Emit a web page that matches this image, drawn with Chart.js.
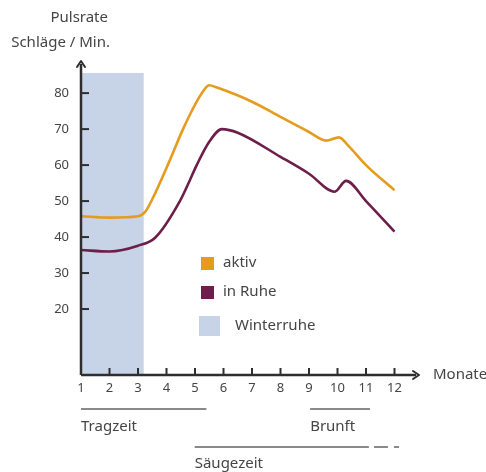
<!DOCTYPE html>
<html><head><meta charset="utf-8">
<script src="https://cdn.jsdelivr.net/npm/chart.js@4"></script>
<style>html,body{margin:0;padding:0;background:#fff}#wrap{width:486px;height:472px;position:relative}</style>
</head><body><div id="wrap"><canvas id="c" width="486" height="472"></canvas></div>
<script>
const months = [1,2,3,4,5,6,7,8,9,10,11,12];
const yTicks = [20,30,40,50,60,70,80];
const aktivX = [1,2,3,3.25,3.5,4.12,4.58,5.2,5.5,5.75,7,8,9,9.6,10.05,10.4,11,12];
const aktivY = [45.8,45.4,45.8,47,50.5,61.4,70,79.5,82.2,81.6,77.6,73.4,69.2,66.8,67.7,65.2,60,53];
const ruheX = [1,2,3,3.6,4.47,4.82,5.06,5.5,5.94,6.5,8,9,9.9,10.3,11,12];
const ruheY = [36.4,36,37.6,39.8,50,55.8,60,66.5,70,69,62.3,57.6,52.6,55.6,50,41.5];
const winter = {from:1, to:3.2, top:85.6};
const periods = [
  {label:'Tragzeit', from:1, to:5.4, row:0},
  {label:'Brunft', from:9.04, to:11.14, row:0},
  {label:'Säugezeit', from:4.99, to:11.1, row:1}
];
const saeugDashes = [[11.28,11.77],[11.98,12.16]];
const legendItems = [
  {label:'aktiv', color:'#E59B1E'},
  {label:'in Ruhe', color:'#6E1E4A'},
  {label:'Winterruhe', color:'#C7D4E7'}
];
const FONT = '"Noto Sans", sans-serif';
const TXT = '#454545';

const pts = (xs,ys)=>xs.map((x,i)=>({x:x,y:ys[i]}));

const deco = {
  id:'deco',
  beforeDatasetsDraw(chart){
    const {ctx} = chart, xs = chart.scales.x, ys = chart.scales.y;
    ctx.save();
    ctx.fillStyle = legendItems[2].color;
    const x0 = xs.getPixelForValue(winter.from), x1 = xs.getPixelForValue(winter.to);
    const yt = ys.getPixelForValue(winter.top), yb = ys.bottom;
    ctx.fillRect(x0, yt, x1-x0, yb-yt);
    ctx.restore();
  },
  afterDatasetsDraw(chart){
    const {ctx} = chart, xs = chart.scales.x, ys = chart.scales.y;
    const ax = xs.left, ay = ys.bottom;
    ctx.save();
    ctx.strokeStyle = '#2e2e2e'; ctx.fillStyle = '#2e2e2e';
    ctx.lineWidth = 2.5;
    // axes
    ctx.beginPath(); ctx.moveTo(ax, ay); ctx.lineTo(ax, ys.top+4); ctx.stroke();
    ctx.beginPath(); ctx.moveTo(ax, ay); ctx.lineTo(xs.right-4, ay); ctx.stroke();
    // arrows
    ctx.lineWidth = 2; ctx.lineCap='round'; ctx.lineJoin='round';
    ctx.beginPath(); ctx.moveTo(ax-4, ys.top+7); ctx.lineTo(ax, ys.top+1); ctx.lineTo(ax+4, ys.top+7); ctx.stroke();
    ctx.beginPath(); ctx.moveTo(xs.right-7, ay-4); ctx.lineTo(xs.right-1, ay); ctx.lineTo(xs.right-7, ay+4); ctx.stroke();
    // y ticks
    ctx.lineWidth = 2; ctx.lineCap='butt';
    ctx.font = '13px '+FONT; ctx.fillStyle = TXT; ctx.textAlign='right'; ctx.textBaseline='middle';
    yTicks.forEach(v=>{
      const y = ys.getPixelForValue(v);
      ctx.beginPath(); ctx.moveTo(ax, y); ctx.lineTo(ax+8, y); ctx.stroke();
      ctx.fillText(String(v), ax-12, y);
    });
    // x ticks
    ctx.textAlign='center'; ctx.textBaseline='middle';
    months.forEach(m=>{
      const x = xs.getPixelForValue(m);
      if(m>1){ ctx.beginPath(); ctx.moveTo(x, ay); ctx.lineTo(x, ay-7); ctx.stroke(); }
      ctx.fillText(String(m), x, ay+13);
    });
    // titles
    ctx.font = '15px '+FONT; ctx.textAlign='right';
    ctx.fillText('Pulsrate', 108, 18);
    ctx.fillText('Schläge / Min.', 110, 43);
    ctx.textAlign='left';
    ctx.fillText('Monate', 433, ay);
    // legend
    ctx.fillStyle = legendItems[0].color; ctx.fillRect(201, 257, 13, 13);
    ctx.fillStyle = legendItems[1].color; ctx.fillRect(201, 286, 13, 13);
    ctx.fillStyle = legendItems[2].color; ctx.fillRect(199, 316, 21, 20);
    ctx.fillStyle = TXT; ctx.textBaseline='middle';
    ctx.fillText(legendItems[0].label, 223, 263);
    ctx.fillText(legendItems[1].label, 223, 292);
    ctx.fillText(legendItems[2].label, 235, 326);
    // periods
    ctx.strokeStyle = '#8a8a8a'; ctx.lineWidth = 2;
    const rowY = [409, 447], txtY = [427, 464];
    periods.forEach(p=>{
      const a = xs.getPixelForValue(p.from), b = xs.getPixelForValue(p.to);
      ctx.beginPath(); ctx.moveTo(a, rowY[p.row]); ctx.lineTo(b, rowY[p.row]); ctx.stroke();
      ctx.fillText(p.label, a, txtY[p.row]);
    });
    saeugDashes.forEach(d=>{
      const a = xs.getPixelForValue(d[0]), b = xs.getPixelForValue(d[1]);
      ctx.beginPath(); ctx.moveTo(a, rowY[1]); ctx.lineTo(b, rowY[1]); ctx.stroke();
    });
    ctx.restore();
  }
};

new Chart(document.getElementById('c'), {
  type:'line',
  data:{datasets:[
    {label:'aktiv', data:pts(aktivX,aktivY), borderColor:legendItems[0].color, borderWidth:2.6, pointRadius:0, cubicInterpolationMode:'monotone', fill:false},
    {label:'in Ruhe', data:pts(ruheX,ruheY), borderColor:legendItems[1].color, borderWidth:2.6, pointRadius:0, cubicInterpolationMode:'monotone', fill:false}
  ]},
  options:{
    responsive:false, animation:false, devicePixelRatio:1,
    layout:{padding:{left:81, right:66, top:60, bottom:97}},
    plugins:{legend:{display:false}, tooltip:{enabled:false}},
    scales:{
      x:{type:'linear', min:1, max:12.895, display:false},
      y:{type:'linear', min:1.67, max:89.2, display:false}
    }
  },
  plugins:[deco]
});
</script></body></html>
